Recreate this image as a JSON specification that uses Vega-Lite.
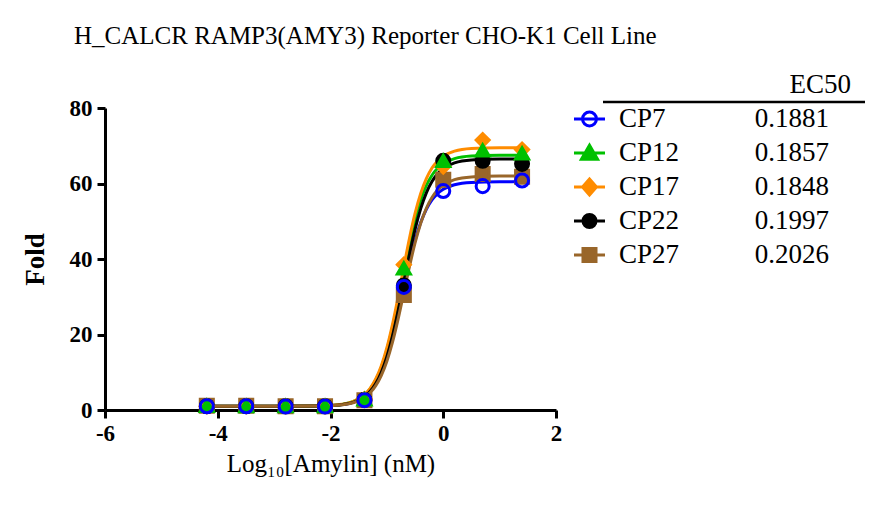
{
"$schema": "https://vega.github.io/schema/vega-lite/v6.json",
"background": "white",
"padding": {"left": 21, "top": 23, "right": 5, "bottom": 5},
"title": {"text": "H_CALCR RAMP3(AMY3) Reporter CHO-K1 Cell Line", "anchor": "start", "frame": "group", "dx": -31, "fontSize": 25, "fontWeight": "normal", "font": "Liberation Serif", "color": "black", "offset": 22},
"bounds": "flush",
"spacing": 18,
"resolve": {"scale": {"x": "independent", "y": "independent", "shape": "independent", "fill": "independent", "stroke": "independent", "color": "independent"}},
"datasets": {
"curves": [
{"series":"CP7","x":-4.2,"y":1.0},{"series":"CP7","x":-3.0,"y":1.0},{"series":"CP7","x":-2.2,"y":1.07},{"series":"CP7","x":-2.0,"y":1.17},{"series":"CP7","x":-1.8,"y":1.42},{"series":"CP7","x":-1.6,"y":2.04},{"series":"CP7","x":-1.4,"y":3.55},{"series":"CP7","x":-1.3,"y":4.94},{"series":"CP7","x":-1.2,"y":7.02},{"series":"CP7","x":-1.1,"y":10.0},{"series":"CP7","x":-1.0,"y":14.11},{"series":"CP7","x":-0.9,"y":19.4},{"series":"CP7","x":-0.8,"y":25.7},{"series":"CP7","x":-0.7,"y":32.5},{"series":"CP7","x":-0.6,"y":39.12},{"series":"CP7","x":-0.5,"y":44.95},{"series":"CP7","x":-0.4,"y":49.64},{"series":"CP7","x":-0.3,"y":53.15},{"series":"CP7","x":-0.2,"y":55.64},{"series":"CP7","x":-0.1,"y":57.34},{"series":"CP7","x":0,"y":58.47},{"series":"CP7","x":0.2,"y":59.67},{"series":"CP7","x":0.5,"y":60.29},{"series":"CP7","x":1.0,"y":60.48},{"series":"CP7","x":1.4,"y":60.5},
{"series":"CP12","x":-4.2,"y":1.0},{"series":"CP12","x":-3.0,"y":1.0},{"series":"CP12","x":-2.2,"y":1.08},{"series":"CP12","x":-2.0,"y":1.19},{"series":"CP12","x":-1.8,"y":1.48},{"series":"CP12","x":-1.6,"y":2.19},{"series":"CP12","x":-1.4,"y":3.92},{"series":"CP12","x":-1.3,"y":5.51},{"series":"CP12","x":-1.2,"y":7.88},{"series":"CP12","x":-1.1,"y":11.28},{"series":"CP12","x":-1.0,"y":15.95},{"series":"CP12","x":-0.9,"y":21.94},{"series":"CP12","x":-0.8,"y":29.02},{"series":"CP12","x":-0.7,"y":36.63},{"series":"CP12","x":-0.6,"y":44.0},{"series":"CP12","x":-0.5,"y":50.45},{"series":"CP12","x":-0.4,"y":55.62},{"series":"CP12","x":-0.3,"y":59.47},{"series":"CP12","x":-0.2,"y":62.2},{"series":"CP12","x":-0.1,"y":64.05},{"series":"CP12","x":0,"y":65.28},{"series":"CP12","x":0.2,"y":66.6},{"series":"CP12","x":0.5,"y":67.27},{"series":"CP12","x":1.0,"y":67.48},{"series":"CP12","x":1.4,"y":67.5},
{"series":"CP17","x":-4.2,"y":1.0},{"series":"CP17","x":-3.0,"y":1.0},{"series":"CP17","x":-2.2,"y":1.08},{"series":"CP17","x":-2.0,"y":1.2},{"series":"CP17","x":-1.8,"y":1.5},{"series":"CP17","x":-1.6,"y":2.24},{"series":"CP17","x":-1.4,"y":4.04},{"series":"CP17","x":-1.3,"y":5.69},{"series":"CP17","x":-1.2,"y":8.15},{"series":"CP17","x":-1.1,"y":11.68},{"series":"CP17","x":-1.0,"y":16.51},{"series":"CP17","x":-0.9,"y":22.71},{"series":"CP17","x":-0.8,"y":30.02},{"series":"CP17","x":-0.7,"y":37.87},{"series":"CP17","x":-0.6,"y":45.44},{"series":"CP17","x":-0.5,"y":52.06},{"series":"CP17","x":-0.4,"y":57.35},{"series":"CP17","x":-0.3,"y":61.3},{"series":"CP17","x":-0.2,"y":64.09},{"series":"CP17","x":-0.1,"y":65.98},{"series":"CP17","x":0,"y":67.24},{"series":"CP17","x":0.2,"y":68.58},{"series":"CP17","x":0.5,"y":69.27},{"series":"CP17","x":1.0,"y":69.48},{"series":"CP17","x":1.4,"y":69.5},
{"series":"CP22","x":-4.2,"y":1.0},{"series":"CP22","x":-3.0,"y":1.0},{"series":"CP22","x":-2.2,"y":1.07},{"series":"CP22","x":-2.0,"y":1.16},{"series":"CP22","x":-1.8,"y":1.41},{"series":"CP22","x":-1.6,"y":2.02},{"series":"CP22","x":-1.4,"y":3.5},{"series":"CP22","x":-1.3,"y":4.88},{"series":"CP22","x":-1.2,"y":6.94},{"series":"CP22","x":-1.1,"y":9.94},{"series":"CP22","x":-1.0,"y":14.13},{"series":"CP22","x":-0.9,"y":19.63},{"series":"CP22","x":-0.8,"y":26.31},{"series":"CP22","x":-0.7,"y":33.72},{"series":"CP22","x":-0.6,"y":41.13},{"series":"CP22","x":-0.5,"y":47.82},{"series":"CP22","x":-0.4,"y":53.33},{"series":"CP22","x":-0.3,"y":57.53},{"series":"CP22","x":-0.2,"y":60.53},{"series":"CP22","x":-0.1,"y":62.6},{"series":"CP22","x":0,"y":63.98},{"series":"CP22","x":0.2,"y":65.48},{"series":"CP22","x":0.5,"y":66.24},{"series":"CP22","x":1.0,"y":66.47},{"series":"CP22","x":1.4,"y":66.5},
{"series":"CP27","x":-4.2,"y":1.0},{"series":"CP27","x":-3.0,"y":1.0},{"series":"CP27","x":-2.2,"y":1.06},{"series":"CP27","x":-2.0,"y":1.15},{"series":"CP27","x":-1.8,"y":1.37},{"series":"CP27","x":-1.6,"y":1.92},{"series":"CP27","x":-1.4,"y":3.27},{"series":"CP27","x":-1.3,"y":4.52},{"series":"CP27","x":-1.2,"y":6.39},{"series":"CP27","x":-1.1,"y":9.13},{"series":"CP27","x":-1.0,"y":12.94},{"series":"CP27","x":-0.9,"y":17.99},{"series":"CP27","x":-0.8,"y":24.15},{"series":"CP27","x":-0.7,"y":31.04},{"series":"CP27","x":-0.6,"y":37.95},{"series":"CP27","x":-0.5,"y":44.25},{"series":"CP27","x":-0.4,"y":49.45},{"series":"CP27","x":-0.3,"y":53.43},{"series":"CP27","x":-0.2,"y":56.3},{"series":"CP27","x":-0.1,"y":58.27},{"series":"CP27","x":0,"y":59.6},{"series":"CP27","x":0.2,"y":61.02},{"series":"CP27","x":0.5,"y":61.75},{"series":"CP27","x":1.0,"y":61.97},{"series":"CP27","x":1.4,"y":62.0}
],
"points": [
{"series":"CP27","logc":-4.194,"fold":1.1},{"series":"CP27","logc":-3.495,"fold":1.1},{"series":"CP27","logc":-2.796,"fold":1.0},{"series":"CP27","logc":-2.097,"fold":1.0},{"series":"CP27","logc":-1.398,"fold":2.6},{"series":"CP27","logc":-0.699,"fold":30.5},{"series":"CP27","logc":0,"fold":61.0},{"series":"CP27","logc":0.699,"fold":62.5},{"series":"CP27","logc":1.398,"fold":61.8},
{"series":"CP22","logc":-4.194,"fold":1.0},{"series":"CP22","logc":-3.495,"fold":1.0},{"series":"CP22","logc":-2.796,"fold":1.0},{"series":"CP22","logc":-2.097,"fold":1.0},{"series":"CP22","logc":-1.398,"fold":2.7},{"series":"CP22","logc":-0.699,"fold":33.0},{"series":"CP22","logc":0,"fold":66.0},{"series":"CP22","logc":0.699,"fold":66.0},{"series":"CP22","logc":1.398,"fold":65.2},
{"series":"CP17","logc":-4.194,"fold":1.0},{"series":"CP17","logc":-3.495,"fold":1.0},{"series":"CP17","logc":-2.796,"fold":1.0},{"series":"CP17","logc":-2.097,"fold":1.0},{"series":"CP17","logc":-1.398,"fold":2.9},{"series":"CP17","logc":-0.699,"fold":38.5},{"series":"CP17","logc":0,"fold":64.5},{"series":"CP17","logc":0.699,"fold":71.5},{"series":"CP17","logc":1.398,"fold":69.0},
{"series":"CP12","logc":-4.194,"fold":1.1},{"series":"CP12","logc":-3.495,"fold":1.0},{"series":"CP12","logc":-2.796,"fold":1.0},{"series":"CP12","logc":-2.097,"fold":1.0},{"series":"CP12","logc":-1.398,"fold":2.8},{"series":"CP12","logc":-0.699,"fold":37.5},{"series":"CP12","logc":0,"fold":66.0},{"series":"CP12","logc":0.699,"fold":68.8},{"series":"CP12","logc":1.398,"fold":68.0},
{"series":"CP7","logc":-4.194,"fold":1.0},{"series":"CP7","logc":-3.495,"fold":1.0},{"series":"CP7","logc":-2.796,"fold":0.9},{"series":"CP7","logc":-2.097,"fold":0.9},{"series":"CP7","logc":-1.398,"fold":2.6},{"series":"CP7","logc":-0.699,"fold":32.6},{"series":"CP7","logc":0,"fold":58.0},{"series":"CP7","logc":0.699,"fold":59.3},{"series":"CP7","logc":1.398,"fold":60.8}
],
"legend": [
{"series":"CP7","ec50":"0.1881"},{"series":"CP12","ec50":"0.1857"},{"series":"CP17","ec50":"0.1848"},{"series":"CP22","ec50":"0.1997"},{"series":"CP27","ec50":"0.2026"}
]
},
"hconcat": [
{
"width": 451,
"height": 302,
"layer": [
{
"data": {"name": "curves"},
"mark": {"type": "line", "strokeWidth": 3, "interpolate": "monotone"},
"encoding": {
"x": {"field": "x", "type": "quantitative", "scale": {"domain": [-6, 2], "nice": false, "zero": false}, "title": "Log₁₀[Amylin] (nM)",
 "axis": {"values": [-6, -4, -2, 0, 2], "labelExpr": "'' + datum.value", "grid": false, "domainWidth": 3, "domainColor": "black", "tickWidth": 3, "tickSize": 8, "tickColor": "black", "labelFont": "Liberation Serif", "labelFontSize": 23, "labelFontWeight": "bold", "labelColor": "black", "labelPadding": 4, "labelFlush": false, "titleFont": "Liberation Serif", "titleFontSize": 25, "titleFontWeight": "normal", "titleColor": "black", "titlePadding": 6}},
"y": {"field": "y", "type": "quantitative", "scale": {"domain": [0, 80], "nice": false, "zero": false}, "title": "Fold",
 "axis": {"values": [0, 20, 40, 60, 80], "grid": false, "domainWidth": 3, "domainColor": "black", "tickWidth": 3, "tickSize": 8, "tickColor": "black", "labelFont": "Liberation Serif", "labelFontSize": 23, "labelFontWeight": "bold", "labelColor": "black", "labelPadding": 5, "labelFlush": false, "titleFont": "Liberation Serif", "titleFontSize": 27, "titleFontWeight": "bold", "titleColor": "black", "titlePadding": 20}},
"color": {"field": "series", "type": "nominal", "scale": {"domain": ["CP7", "CP12", "CP17", "CP22", "CP27"], "range": ["#0000FF", "#00C000", "#FF8C00", "#000000", "#99662A"]}, "legend": null}
}
},
{
"data": {"name": "points"},
"mark": {"type": "point", "filled": true, "size": 170, "strokeWidth": 3, "opacity": 1},
"encoding": {
"x": {"field": "logc", "type": "quantitative"},
"y": {"field": "fold", "type": "quantitative"},
"shape": {"field": "series", "type": "nominal", "scale": {"domain": ["CP7", "CP12", "CP17", "CP22", "CP27"], "range": ["circle", "triangle-up", "diamond", "circle", "square"]}, "legend": null},
"fill": {"field": "series", "type": "nominal", "scale": {"domain": ["CP7", "CP12", "CP17", "CP22", "CP27"], "range": ["rgba(0,0,0,0)", "#00C000", "#FF8C00", "#000000", "#99662A"]}, "legend": null},
"stroke": {"field": "series", "type": "nominal", "scale": {"domain": ["CP7", "CP12", "CP17", "CP22", "CP27"], "range": ["#0000FF", "#00C000", "#FF8C00", "#000000", "#99662A"]}, "legend": null}
}
}
]
},
{
"width": 291,
"height": 158,
"layer": [
{
"data": {"name": "legend"},
"mark": {"type": "point", "filled": true, "size": 961, "strokeWidth": 3, "opacity": 1},
"encoding": {
"x": {"datum": "sym", "type": "nominal", "scale": {"type": "point", "domain": ["sym", "name", "val"], "padding": 0.1192}, "axis": null},
"y": {"field": "series", "type": "nominal", "scale": {"type": "point", "domain": ["CP7", "CP12", "CP17", "CP22", "CP27"], "padding": 0.3235}, "axis": null},
"shape": {"field": "series", "type": "nominal", "scale": {"domain": ["CP7", "CP12", "CP17", "CP22", "CP27"], "range": ["M-1,0H1M-0.45,0A0.45,0.45,0,1,1,0.45,0A0.45,0.45,0,1,1,-0.45,0Z", "M-1,0H1M0,-0.5L0.52,0.4L-0.52,0.4Z", "M-1,0H1M0,-0.52L0.45,0L0,0.52L-0.45,0Z", "M-1,0H1M-0.42,0A0.42,0.42,0,1,1,0.42,0A0.42,0.42,0,1,1,-0.42,0Z", "M-1,0H1M-0.42,-0.42H0.42V0.42H-0.42Z"]}, "legend": null},
"fill": {"field": "series", "type": "nominal", "scale": {"domain": ["CP7", "CP12", "CP17", "CP22", "CP27"], "range": ["rgba(0,0,0,0)", "#00C000", "#FF8C00", "#000000", "#99662A"]}, "legend": null},
"stroke": {"field": "series", "type": "nominal", "scale": {"domain": ["CP7", "CP12", "CP17", "CP22", "CP27"], "range": ["#0000FF", "#00C000", "#FF8C00", "#000000", "#99662A"]}, "legend": null}
}
},
{
"data": {"name": "legend"},
"mark": {"type": "text", "align": "left", "baseline": "middle", "font": "Liberation Serif", "fontSize": 27, "color": "black", "dx": -100.5},
"encoding": {
"x": {"datum": "name", "type": "nominal"},
"y": {"field": "series", "type": "nominal"},
"text": {"field": "series"}
}
},
{
"data": {"name": "legend"},
"mark": {"type": "text", "align": "right", "baseline": "middle", "font": "Liberation Serif", "fontSize": 27, "color": "black", "dx": -20.5},
"encoding": {
"x": {"datum": "val", "type": "nominal"},
"y": {"field": "series", "type": "nominal"},
"text": {"field": "ec50"}
}
},
{
"data": {"values": [{"h": "EC50"}]},
"mark": {"type": "text", "align": "right", "baseline": "middle", "font": "Liberation Serif", "fontSize": 27, "color": "black", "dx": 1.5, "yOffset": -34},
"encoding": {
"x": {"datum": "val", "type": "nominal"},
"y": {"datum": "CP7", "type": "nominal"},
"text": {"field": "h"}
}
},
{
"data": {"values": [{"h": "rule"}]},
"mark": {"type": "rule", "strokeWidth": 2.5, "color": "black", "xOffset": 13.5, "yOffset": -17},
"encoding": {
"x": {"datum": "sym", "type": "nominal"},
"x2": {"value": "width"},
"y": {"datum": "CP7", "type": "nominal"}
}
}
]
}
],
"config": {"view": {"stroke": null}, "font": "Liberation Serif"}
}
